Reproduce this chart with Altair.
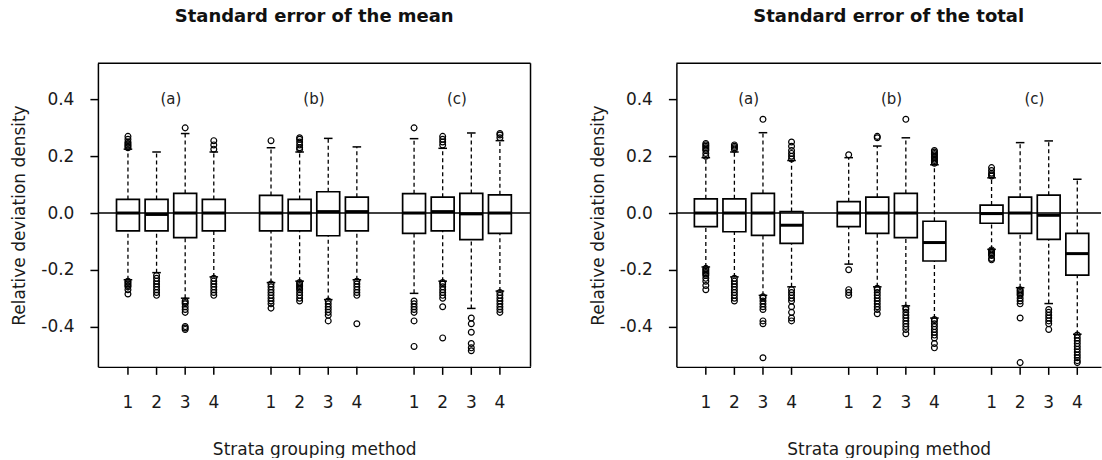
import altair as alt
import pandas as pd

# ---------------- data ----------------
positions = [1, 2, 3, 4, 6, 7, 8, 9, 11, 12, 13, 14]
tick_labels = ["1", "2", "3", "4"] * 3
group_labels = ["(a)", "(b)", "(c)"]
group_centers = [2.5, 7.5, 12.5]
y_ticks = [-0.4, -0.2, 0.0, 0.2, 0.4]

# Standard error of the mean
mean_q3 = [0.048, 0.048, 0.069, 0.048, 0.062, 0.048, 0.075, 0.056, 0.068, 0.056, 0.069, 0.064]
mean_med = [0.0, -0.005, 0.0, 0.0, 0.0, 0.0, 0.005, 0.005, 0.0, 0.005, -0.003, 0.0]
mean_q1 = [-0.063, -0.063, -0.087, -0.063, -0.063, -0.063, -0.080, -0.063, -0.072, -0.063, -0.094, -0.072]
mean_hi = [0.225, 0.215, 0.280, 0.215, 0.230, 0.215, 0.263, 0.233, 0.262, 0.228, 0.282, 0.255]
mean_lo = [-0.235, -0.210, -0.300, -0.225, -0.245, -0.240, -0.305, -0.235, -0.283, -0.240, -0.336, -0.275]
mean_out_up = [
    [0.23, 0.235, 0.24, 0.245, 0.25, 0.26, 0.27],
    [],
    [0.30],
    [0.225, 0.24, 0.255],
    [0.255],
    [0.225, 0.23, 0.24, 0.25, 0.26, 0.265],
    [],
    [],
    [0.30],
    [0.24, 0.25, 0.26, 0.27],
    [],
    [0.265, 0.275, 0.28],
]
mean_out_low = [
    [-0.24, -0.245, -0.25, -0.255, -0.26, -0.27, -0.285],
    [-0.22, -0.23, -0.24, -0.25, -0.26, -0.27, -0.28, -0.29],
    [-0.31, -0.315, -0.32, -0.33, -0.34, -0.35, -0.40, -0.405, -0.41],
    [-0.23, -0.24, -0.25, -0.26, -0.27, -0.28, -0.29],
    [-0.25, -0.26, -0.27, -0.28, -0.29, -0.30, -0.31, -0.32, -0.335],
    [-0.245, -0.25, -0.255, -0.26, -0.265, -0.27, -0.28, -0.29, -0.30, -0.31],
    [-0.31, -0.32, -0.33, -0.34, -0.35, -0.36, -0.38],
    [-0.24, -0.25, -0.26, -0.27, -0.28, -0.29, -0.39],
    [-0.31, -0.32, -0.33, -0.34, -0.35, -0.38, -0.47],
    [-0.245, -0.25, -0.26, -0.27, -0.28, -0.29, -0.30, -0.33, -0.44],
    [-0.37, -0.39, -0.42, -0.46, -0.475, -0.485],
    [-0.28, -0.29, -0.30, -0.31, -0.32, -0.33, -0.34, -0.35],
]

# Standard error of the total
tot_q3 = [0.050, 0.050, 0.069, 0.005, 0.040, 0.056, 0.069, -0.029, 0.028, 0.056, 0.063, -0.072]
tot_med = [0.0, 0.0, 0.0, -0.043, 0.0, 0.0, 0.0, -0.104, -0.002, 0.0, -0.008, -0.143]
tot_q1 = [-0.048, -0.066, -0.079, -0.107, -0.048, -0.072, -0.087, -0.169, -0.036, -0.072, -0.093, -0.219]
tot_hi = [0.195, 0.215, 0.283, 0.185, 0.195, 0.236, 0.265, 0.170, 0.124, 0.248, 0.254, 0.119]
tot_lo = [-0.190, -0.225, -0.290, -0.260, -0.180, -0.260, -0.327, -0.370, -0.128, -0.263, -0.319, -0.427]
tot_out_up = [
    [0.20, 0.21, 0.22, 0.225, 0.23, 0.235, 0.24, 0.245],
    [0.225, 0.23, 0.235, 0.24],
    [0.33],
    [0.19, 0.20, 0.21, 0.22, 0.235, 0.25],
    [0.205],
    [0.265, 0.27],
    [0.33],
    [0.175, 0.18, 0.185, 0.19, 0.195, 0.20, 0.205, 0.21, 0.215, 0.22],
    [0.13, 0.135, 0.14, 0.15, 0.16],
    [],
    [],
    [],
]
tot_out_low = [
    [-0.195, -0.20, -0.205, -0.21, -0.215, -0.22, -0.23, -0.24, -0.255, -0.27],
    [-0.23, -0.24, -0.25, -0.26, -0.27, -0.28, -0.29, -0.30, -0.31],
    [-0.295, -0.30, -0.31, -0.32, -0.33, -0.34, -0.38, -0.39, -0.51],
    [-0.27, -0.28, -0.29, -0.30, -0.31, -0.33, -0.35, -0.37, -0.38],
    [-0.20, -0.27, -0.28, -0.29],
    [-0.265, -0.27, -0.28, -0.29, -0.30, -0.31, -0.32, -0.33, -0.34, -0.355],
    [-0.335, -0.34, -0.35, -0.36, -0.37, -0.38, -0.39, -0.40, -0.41, -0.425],
    [-0.375, -0.38, -0.39, -0.40, -0.41, -0.42, -0.43, -0.44, -0.46, -0.475],
    [-0.13, -0.135, -0.14, -0.145, -0.15, -0.16, -0.165],
    [-0.27, -0.275, -0.28, -0.285, -0.29, -0.30, -0.31, -0.32, -0.37, -0.527],
    [-0.34, -0.35, -0.36, -0.37, -0.38, -0.39, -0.41],
    [-0.43, -0.44, -0.45, -0.46, -0.47, -0.48, -0.49, -0.50, -0.51, -0.52, -0.527],
]

FONT = "DejaVu Sans"
Y_DOMAIN = [-0.542, 0.528]
H = 304
LW = 1.5
TXT = "#1a1a1a"


def panel(title, q3, med, q1, hi, lo, out_up, out_low, width, xdom, right_border):
    boxes = pd.DataFrame({"pos": positions, "q3": q3, "med": med, "q1": q1, "hi": hi, "lo": lo})
    outs = pd.DataFrame(
        [{"pos": p, "v": v} for p, ups, lows in zip(positions, out_up, out_low) for v in ups + lows]
    )
    groups = pd.DataFrame({"x": group_centers, "label": group_labels, "y": [0.4] * 3})
    xticks = pd.DataFrame({"pos": positions, "label": tick_labels})

    xs = alt.Scale(domain=xdom, nice=False, zero=False)
    ys = alt.Scale(domain=Y_DOMAIN, nice=False, zero=False)

    xaxis = alt.Axis(
        values=positions, labels=False, ticks=False, grid=False,
        domainColor="black", domainWidth=LW,
        title="Strata grouping method", titleFont=FONT, titleFontSize=17,
        titleFontWeight="normal", titleColor=TXT, titlePadding=75,
    )
    yaxis = alt.Axis(
        values=y_ticks,
        labelExpr="datum.value < 0 ? '-' + format(-datum.value, '.1f') : format(datum.value, '.1f')",
        labelOverlap=False, labelFlush=False,
        ticks=True, grid=False, tickSize=8, tickColor="black", domainColor="black",
        tickWidth=LW, domainWidth=LW,
        labelPadding=16, labelFontSize=17, labelColor=TXT, labelFont=FONT,
        title="Relative deviation density", titleFont=FONT, titleFontSize=17,
        titleFontWeight="normal", titleColor=TXT, titlePadding=12,
    )

    base = alt.Chart(boxes).transform_calculate(
        bl="datum.pos - 0.4", br="datum.pos + 0.4",
        cl="datum.pos - 0.15", cr="datum.pos + 0.15",
    )

    axes_layer = base.mark_rule(opacity=0).encode(
        x=alt.X("pos:Q", scale=xs, axis=xaxis),
        y=alt.Y("hi:Q", scale=ys, axis=yaxis),
    )
    wh_up = base.mark_rule(color="black", strokeDash=[4, 3], strokeWidth=1.3).encode(
        x=alt.X("pos:Q", scale=xs), y=alt.Y("q3:Q", scale=ys), y2="hi:Q")
    wh_lo = base.mark_rule(color="black", strokeDash=[4, 3], strokeWidth=1.3).encode(
        x=alt.X("pos:Q", scale=xs), y=alt.Y("lo:Q", scale=ys), y2="q1:Q")
    cap_up = base.mark_rule(color="black", strokeWidth=1.5).encode(
        x=alt.X("cl:Q", scale=xs), x2="cr:Q", y=alt.Y("hi:Q", scale=ys))
    cap_lo = base.mark_rule(color="black", strokeWidth=1.5).encode(
        x=alt.X("cl:Q", scale=xs), x2="cr:Q", y=alt.Y("lo:Q", scale=ys))
    box = base.mark_rect(fillOpacity=0, stroke="black", strokeWidth=1.7).encode(
        x=alt.X("bl:Q", scale=xs), x2="br:Q", y=alt.Y("q1:Q", scale=ys), y2="q3:Q")
    median = base.mark_rule(color="black", strokeWidth=3).encode(
        x=alt.X("bl:Q", scale=xs), x2="br:Q", y=alt.Y("med:Q", scale=ys))
    pts = alt.Chart(outs).mark_point(shape="circle", filled=False, color="black",
                                     size=34, strokeWidth=1.2, opacity=1).encode(
        x=alt.X("pos:Q", scale=xs), y=alt.Y("v:Q", scale=ys))
    zero = alt.Chart(pd.DataFrame({"v": [0.0]})).mark_rule(color="black", strokeWidth=LW).encode(
        y=alt.Y("v:Q", scale=ys))
    glab = alt.Chart(groups).mark_text(font=FONT, fontSize=15, color="#222").encode(
        x=alt.X("x:Q", scale=xs), y=alt.Y("y:Q", scale=ys), text="label:N")
    top = alt.Chart(pd.DataFrame({"v": [0]})).mark_rule(color="black", strokeWidth=LW).encode(
        x=alt.value(0), x2=alt.value(width), y=alt.value(0))
    # x-axis tick marks and labels (drawn through the x scale)
    xtick_marks = alt.Chart(xticks).mark_rule(color="black", strokeWidth=LW).encode(
        x=alt.X("pos:Q", scale=xs), y=alt.value(H), y2=alt.value(H + 8))
    xtick_text = alt.Chart(xticks).mark_text(font=FONT, fontSize=17, color=TXT,
                                             baseline="middle").encode(
        x=alt.X("pos:Q", scale=xs), y=alt.value(H + 36), text="label:N")

    layers = [axes_layer, wh_up, wh_lo, cap_up, cap_lo, box, median, pts, zero, glab, top,
              xtick_marks, xtick_text]
    if right_border:
        layers.append(
            alt.Chart(pd.DataFrame({"v": [0]})).mark_rule(color="black", strokeWidth=LW).encode(
                x=alt.value(width), y=alt.value(0), y2=alt.value(H)))

    return alt.layer(*layers).properties(
        width=width, height=H,
        title=alt.TitleParams(title, font=FONT, fontSize=18, fontWeight="bold",
                              color="#111", offset=36, anchor="middle"),
    )


left = panel("Standard error of the mean", mean_q3, mean_med, mean_q1, mean_hi, mean_lo,
             mean_out_up, mean_out_low, 433, [-0.05, 15.07], True)
right = panel("Standard error of the total", tot_q3, tot_med, tot_q1, tot_hi, tot_lo,
              tot_out_up, tot_out_low, 425, [-0.03, 14.83], False)

chart = alt.hconcat(left, right, spacing=146, bounds="flush").resolve_scale(
    x="independent", y="independent"
).properties(
    padding={"left": 10, "top": 8, "right": 0, "bottom": 0},
).configure_view(stroke=None)

chart.save("out.html", embed_options={"renderer": "svg", "actions": False})
